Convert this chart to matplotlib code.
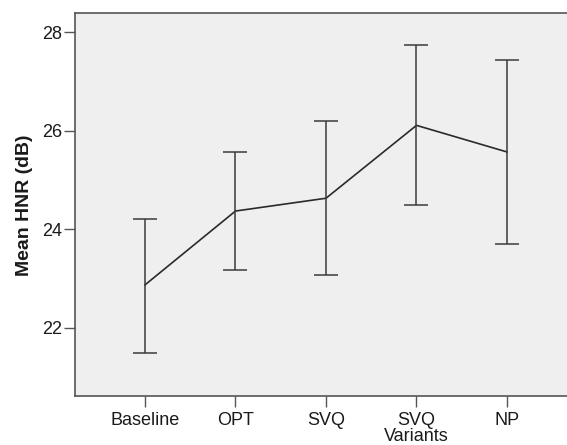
import numpy as np
import matplotlib
matplotlib.use("Agg")
import matplotlib.pyplot as plt

# values (mean HNR with error bars)
variants = ["Baseline", "OPT", "SVQ", "SVQ", "NP"]
mean_hnr = [22.87, 24.37, 24.63, 26.11, 25.57]
upper_ci = [24.21, 25.57, 26.19, 27.74, 27.43]
lower_ci = [21.49, 23.17, 23.07, 24.49, 23.70]

plt.rcParams['font.family'] = ['Liberation Sans', 'DejaVu Sans']

fig = plt.figure(figsize=(5.67, 4.45), dpi=100)
ax = fig.add_axes([0.1317, 0.1094, 0.8683, 0.8607])
ax.set_facecolor('#efefef')

x = np.arange(len(variants))
mean = np.array(mean_hnr)
err = [mean - np.array(lower_ci), np.array(upper_ci) - mean]

ax.plot(x, mean, color='#2a2a2a', lw=1.2)
ax.errorbar(x, mean, yerr=err, fmt='none', ecolor='#3a3a3a', elinewidth=1.1,
            capsize=8.5, capthick=1.1)

ax.set_xlim(-0.777, 4.663)
ax.set_ylim(20.607, 28.386)
ax.set_yticks([22, 24, 26, 28])
ax.set_xticks(x)
ax.set_xticklabels(variants)

for s in ['left', 'bottom', 'top']:
    ax.spines[s].set_color('#555555')
    ax.spines[s].set_linewidth(1.2)
ax.spines['right'].set_visible(False)

ax.tick_params(axis='both', direction='out', length=8, width=1.0, color='#555555',
               labelsize=13, labelcolor='#1a1a1a')
ax.tick_params(axis='y', pad=1)
ax.tick_params(axis='x', pad=3)

ax.set_ylabel('Mean HNR (dB)', fontsize=14, fontweight='bold', color='#1a1a1a', va='center')
ax.yaxis.set_label_coords(-0.101, 0.5)
ax.set_xlabel('Variants', fontsize=13, color='#1a1a1a', va='center')
ax.xaxis.set_label_coords(0.693, -0.106)

fig.savefig('out.png', dpi=100)
